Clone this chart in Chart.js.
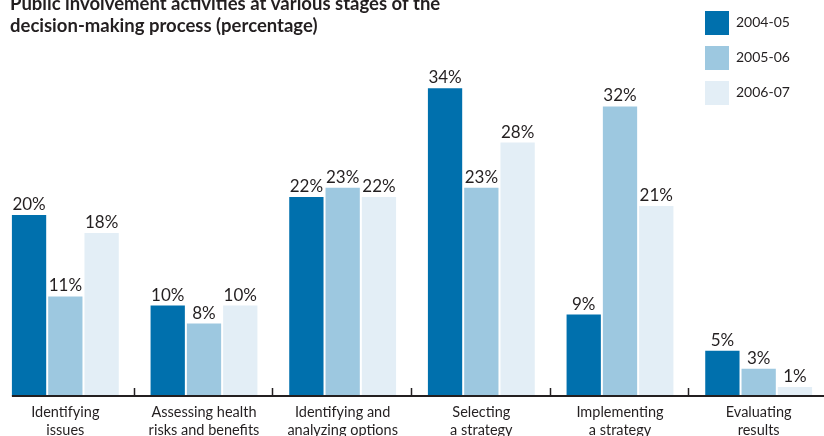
<!DOCTYPE html>
<html>
<head>
<meta charset="utf-8">
<script src="https://cdn.jsdelivr.net/npm/chart.js@4"></script>
<style>
  body { margin: 0; background: #fff; }
  #wrap { width: 824px; height: 436px; overflow: hidden; position: relative; }
  #myChart { position: absolute; left: -4px; top: 0; }
</style>
</head>
<body>
<div id="wrap"><canvas id="myChart" width="832" height="436"></canvas></div>
<script>
const categories = [
  ['Identifying', 'issues'],
  ['Assessing health', 'risks and benefits'],
  ['Identifying and', 'analyzing options'],
  ['Selecting', 'a strategy'],
  ['Implementing', 'a strategy'],
  ['Evaluating', 'results']
];
const seriesNames = ['2004-05', '2005-06', '2006-07'];
const values0405 = [20, 10, 22, 34, 9, 5];
const values0506 = [11, 8, 23, 23, 32, 3];
const values0607 = [18, 10, 22, 28, 21, 1];
const colors = ['#0070ad', '#9dc8e0', '#e3eef6'];
const titleLines = [
  'Public involvement activities at various stages of the',
  'decision-making process (percentage)'
];

const FONT = 'Lato, "Liberation Sans", sans-serif';
const INK = '#231f20';
const OFF = 4; // le canvas est décalé de 4px à gauche

// titre, légende, étiquettes de valeurs, axe
const extras = {
  id: 'extras',
  afterDatasetsDraw(chart) {
    const c = chart.ctx;
    const x = chart.scales.x;
    const area = chart.chartArea;
    c.save();
    c.fillStyle = INK;
    c.textBaseline = 'alphabetic';

    // valeurs au-dessus des barres
    c.font = '17px ' + FONT;
    c.textAlign = 'center';
    chart.data.datasets.forEach((ds, i) => {
      chart.getDatasetMeta(i).data.forEach((bar, j) => {
        c.fillText(ds.data[j] + '%', bar.x, bar.y - 5);
      });
    });

    // ligne d'axe + petites graduations
    const first = chart.getDatasetMeta(0).data[0];
    c.strokeStyle = INK;
    c.lineWidth = 2;
    c.beginPath();
    c.moveTo(first.x - first.width / 2, area.bottom);
    c.lineTo(chart.width, area.bottom);
    c.stroke();
    c.lineWidth = 1.5;
    for (let k = 1; k < categories.length; k++) {
      const tx = Math.round((x.getPixelForValue(k - 1) + x.getPixelForValue(k)) / 2) - 0.5;
      c.beginPath();
      c.moveTo(tx, area.bottom - 8);
      c.lineTo(tx, area.bottom);
      c.stroke();
    }

    // titre
    c.textAlign = 'left';
    c.font = 'bold 18.5px ' + FONT;
    c.fillText(titleLines[0], 10 + OFF, 10);
    c.fillText(titleLines[1], 10 + OFF, 32);

    // légende
    c.font = '14px ' + FONT;
    seriesNames.forEach((name, i) => {
      const y = 11 + i * 35;
      c.fillStyle = colors[i];
      c.fillRect(705 + OFF, y, 24, 24);
      c.fillStyle = INK;
      c.fillText(name, 736 + OFF, y + 16);
    });
    c.restore();
  }
};

const ctx = document.getElementById('myChart').getContext('2d');

new Chart(ctx, {
  type: 'bar',
  data: {
    labels: categories,
    datasets: seriesNames.map((name, i) => ({
      label: name,
      data: [values0405, values0506, values0607][i],
      backgroundColor: colors[i],
      barPercentage: 0.945,
      categoryPercentage: 0.785
    }))
  },
  options: {
    responsive: false,
    animation: false,
    layout: { padding: { top: 34, left: 0, right: 0, bottom: 0 } },
    plugins: {
      legend: { display: false },
      tooltip: { enabled: false }
    },
    scales: {
      x: {
        grid: { display: false },
        border: { display: false },
        ticks: {
          color: INK,
          padding: 0,
          font: { family: FONT, size: 14.5, lineHeight: 1.2 },
          maxRotation: 0,
          autoSkip: false
        },
        afterFit(scale) { scale.height = 40; }
      },
      y: {
        display: false,
        min: 0,
        max: 40
      }
    }
  },
  plugins: [extras]
});
</script>
</body>
</html>
